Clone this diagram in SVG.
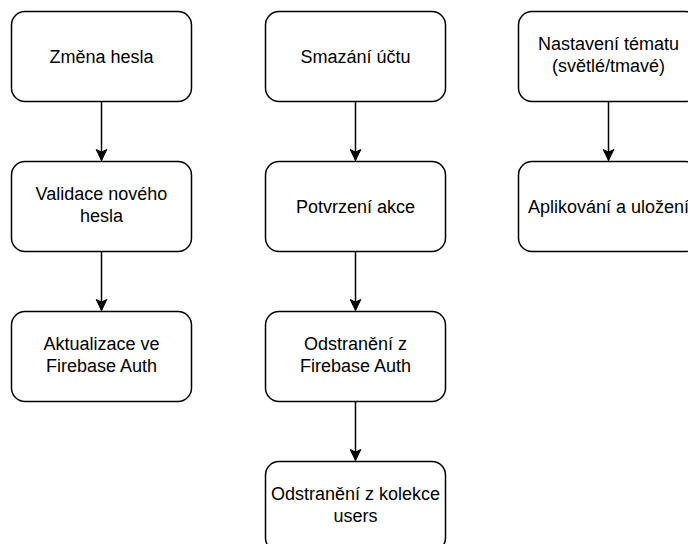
<svg xmlns="http://www.w3.org/2000/svg" width="688" height="544" viewBox="0 0 688 544">
<style>
.box{fill:#fff;stroke:#000;stroke-width:1.5}
.lbl{font-family:"Liberation Sans",Arial,sans-serif;font-size:18px;fill:#000;text-anchor:middle}
.edge{stroke:#000;stroke-width:1.5;fill:none}
</style>
<defs>
<marker id="arr" markerUnits="userSpaceOnUse" markerWidth="14" markerHeight="14" viewBox="-12 -7 14 14" refX="0" refY="0" orient="auto">
<path d="M0,0 L-11,-5.3 L-8.5,0 L-11,5.3 Z" fill="#000" stroke="#000" stroke-width="1"/>
</marker>
</defs>
<rect width="688" height="544" fill="#fff"/>
<g id="connectors">
<path class="edge" d="M101.5,101.5 V160.5" marker-end="url(#arr)"/>
<path class="edge" d="M101.5,251.5 V310.5" marker-end="url(#arr)"/>
<path class="edge" d="M355.5,101.5 V160.5" marker-end="url(#arr)"/>
<path class="edge" d="M355.5,251.5 V310.5" marker-end="url(#arr)"/>
<path class="edge" d="M355.5,401.5 V460.5" marker-end="url(#arr)"/>
<path class="edge" d="M608.5,101.5 V160.5" marker-end="url(#arr)"/>
</g>
<g id="zmena-hesla"><rect class="box" x="11.5" y="11.5" width="180" height="90" rx="13.5"/><text class="lbl" x="101.5" y="63">Změna hesla</text></g>
<g id="validace"><rect class="box" x="11.5" y="161.5" width="180" height="90" rx="13.5"/><text class="lbl" x="101.5" y="200">Validace nového</text><text class="lbl" x="101.5" y="222">hesla</text></g>
<g id="aktualizace"><rect class="box" x="11.5" y="311.5" width="180" height="90" rx="13.5"/><text class="lbl" x="101.5" y="350">Aktualizace ve</text><text class="lbl" x="101.5" y="372">Firebase Auth</text></g>
<g id="smazani"><rect class="box" x="265.5" y="11.5" width="180" height="90" rx="13.5"/><text class="lbl" x="355.5" y="63">Smazání účtu</text></g>
<g id="potvrzeni"><rect class="box" x="265.5" y="161.5" width="180" height="90" rx="13.5"/><text class="lbl" x="355.5" y="213">Potvrzení akce</text></g>
<g id="odstraneni-auth"><rect class="box" x="265.5" y="311.5" width="180" height="90" rx="13.5"/><text class="lbl" x="355.5" y="350">Odstranění z</text><text class="lbl" x="355.5" y="372">Firebase Auth</text></g>
<g id="odstraneni-users"><rect class="box" x="265.5" y="461.5" width="180" height="90" rx="13.5"/><text class="lbl" x="355.5" y="500">Odstranění z kolekce</text><text class="lbl" x="355.5" y="522">users</text></g>
<g id="nastaveni"><rect class="box" x="518.5" y="11.5" width="180" height="90" rx="13.5"/><text class="lbl" x="608.5" y="50">Nastavení tématu</text><text class="lbl" x="608.5" y="72">(světlé/tmavé)</text></g>
<g id="aplikovani"><rect class="box" x="518.5" y="161.5" width="180" height="90" rx="13.5"/><text class="lbl" x="608.5" y="213">Aplikování a uložení</text></g>
</svg>
